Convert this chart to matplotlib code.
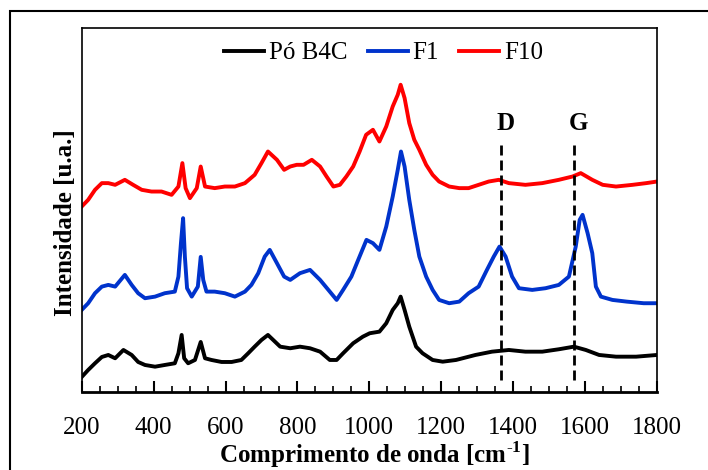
import matplotlib
matplotlib.use("Agg")
import matplotlib.pyplot as plt
from matplotlib.patches import Rectangle

plt.rcParams['font.family'] = ['Liberation Serif', 'DejaVu Serif']
plt.rcParams['mathtext.fontset'] = 'custom'
plt.rcParams['mathtext.rm'] = 'Liberation Serif'
plt.rcParams['mathtext.bf'] = 'Liberation Serif:bold'

# ---- data (arbitrary intensity units) ----
x_b4c = [200, 218, 237, 256, 274, 293, 316, 339, 357, 376, 404, 431, 459, 469, 478,
         485, 496, 515, 531, 543, 561, 589, 617, 644, 663, 681, 700, 718, 752, 780,
         807, 835, 863, 890, 909, 927, 955, 982, 1001, 1028, 1047, 1065, 1079, 1087,
         1098, 1111, 1130, 1148, 1176, 1204, 1241, 1295, 1341, 1388, 1434, 1481, 1527,
         1569, 1602, 1639, 1686, 1742, 1800]
y_b4c = [15, 22, 28.7, 35, 37, 33.7, 42, 37, 30, 27, 25.3, 27, 28.7, 38.7, 57,
         33.7, 28.7, 32, 50, 33.7, 32, 30, 30, 32, 38.7, 45.3, 52, 57, 45.3, 43.7,
         45.3, 43.7, 40.3, 32, 32, 38.7, 48.7, 55.3, 58.7, 60.3, 68.7, 82, 88.7, 95.3,
         82, 65.3, 45.3, 38.7, 32, 30.3, 32, 37, 40.3, 42, 40.3, 40.3, 42.7,
         45.3, 42, 37, 35.3, 35.3, 37]

x_f1 = [200, 218, 237, 256, 274, 293, 320, 339, 357, 376, 404, 431, 459, 469, 476,
        482, 487, 493, 506, 523, 531, 538, 547, 570, 598, 626, 654, 672, 691, 709,
        723, 743, 763, 780, 807, 835, 863, 890, 909, 927, 950, 969, 992, 1010, 1028,
        1047, 1065, 1079, 1088, 1098, 1111, 1125, 1139, 1158, 1176, 1194, 1222, 1250,
        1276, 1304, 1327, 1346, 1362, 1379, 1397, 1416, 1453, 1490, 1527, 1555, 1574,
        1585, 1593, 1607, 1620, 1630, 1644, 1676, 1716, 1763, 1800]
y_f1 = [82, 88.7, 98.7, 105.3, 107, 105.3, 117, 107, 98.7, 93.7, 95.3, 98.7, 100.3, 115.3, 148.7,
        173.7, 135, 103.7, 95.3, 105.3, 135, 112, 100.3, 100.3, 98.7, 95.3, 100.3, 107, 118.7, 135.3,
        142, 128.7, 115.3, 112, 118.7, 122, 112, 100.3, 92, 102, 115.3, 132, 152, 148.7, 142,
        165.3, 195.3, 222, 240.3, 225.3, 192, 162, 135.3, 115.3, 102, 92, 88.7, 90.3,
        98.7, 105.3, 122, 135.3, 145.3, 135.3, 115.3, 103.7, 102, 103.7, 107, 115.3, 145.3,
        172, 177, 158.7, 138.7, 105.3, 95.3, 92, 90.3, 88.7, 88.7]

x_f10 = [200, 218, 237, 256, 274, 293, 320, 343, 367, 394, 422, 450, 469, 480, 489,
         501, 520, 531, 543, 570, 598, 626, 654, 681, 700, 718, 743, 763, 780, 798,
         817, 840, 863, 881, 900, 918, 936, 955, 973, 991, 1010, 1028, 1047, 1065,
         1079, 1087, 1098, 1111, 1125, 1139, 1158, 1176, 1194, 1222, 1250, 1276, 1304,
         1332, 1360, 1388, 1434, 1481, 1527, 1565, 1588, 1620, 1649, 1686, 1732, 1770,
         1800]
y_f10 = [185.3, 192, 202, 208.7, 208.7, 207, 212, 207, 202, 200.3, 200.3, 197, 205.3, 228.7, 203.7,
         193.7, 203.7, 225.3, 205.3, 203.7, 205.3, 205.3, 208.7, 217, 228.7, 240.3, 232, 222, 225.3, 227,
         227, 232, 225.3, 215.3, 205.3, 207, 215.3, 225.3, 240.3, 257, 262, 250.3, 265.3, 285.3,
         297, 307, 293.7, 268.7, 252, 242, 227, 217, 210.3, 205.3, 203.7, 203.7, 207,
         210.3, 212, 208.7, 207, 208.7, 212, 215.3, 218.7, 212, 207, 205.3, 207, 208.7,
         210.3]

series_labels = ['Pó B4C', 'F1', 'F10']
band_positions = [1366, 1569]
band_labels = ['D', 'G']
xticks = [200, 400, 600, 800, 1000, 1200, 1400, 1600, 1800]

# ---- figure ----
fig = plt.figure(figsize=(7.08, 4.70), dpi=100)
ax = fig.add_axes([81.7/708, 1-392/470, (657-81.7)/708, (392-27.7)/470])

ax.plot(x_b4c, y_b4c, color='black', lw=2.8, label=series_labels[0])
ax.plot(x_f1, y_f1, color='#0033cc', lw=2.8, label=series_labels[1])
ax.plot(x_f10, y_f10, color='#ff0000', lw=2.8, label=series_labels[2])

for xp, lab in zip(band_positions, band_labels):
    ax.plot([xp, xp], [12, 252], color='black', lw=2.0, ls=(0, (3.6, 1.8)))
    ax.text(xp + 12, 268, lab, ha='center', va='center', fontsize=18,
            fontweight='bold')

ax.set_xlim(200, 1800)
ax.set_ylim(0, 364)
ax.set_xticks(xticks)
ax.set_xticks(range(250, 1800, 50), minor=True)
ax.set_yticks([])
ax.tick_params(axis='x', which='major', direction='in', length=8, width=1.5,
               labelsize=18, pad=18)
ax.tick_params(axis='x', which='minor', direction='in', length=4.5, width=1.2)
for side in ['top', 'right', 'left']:
    ax.spines[side].set_linewidth(1.2)
ax.spines['bottom'].set_linewidth(2.0)

fig.text(65.5/708, 1-223/470, 'Intensidade [u.a.]', rotation=90, ha='center',
         va='center', fontsize=18, fontweight='bold')
fig.text(374/708, 1-455/470, r'Comprimento de onda [cm$^{\mathbf{\text{-}1}}$]',
         ha='center', va='center', fontsize=18, fontweight='bold')

fig.legend(loc='center', bbox_to_anchor=(383.5/708, 1-53/470), ncol=3,
           frameon=False, fontsize=18, handlelength=1.6, handletextpad=0.2,
           columnspacing=0.8)

fig.add_artist(Rectangle((10/708, -0.2), 2.0, 0.2 + 1-11/470, transform=fig.transFigure,
                         fill=False, ec='black', lw=1.5, clip_on=False))

fig.savefig('out.png', dpi=100)
